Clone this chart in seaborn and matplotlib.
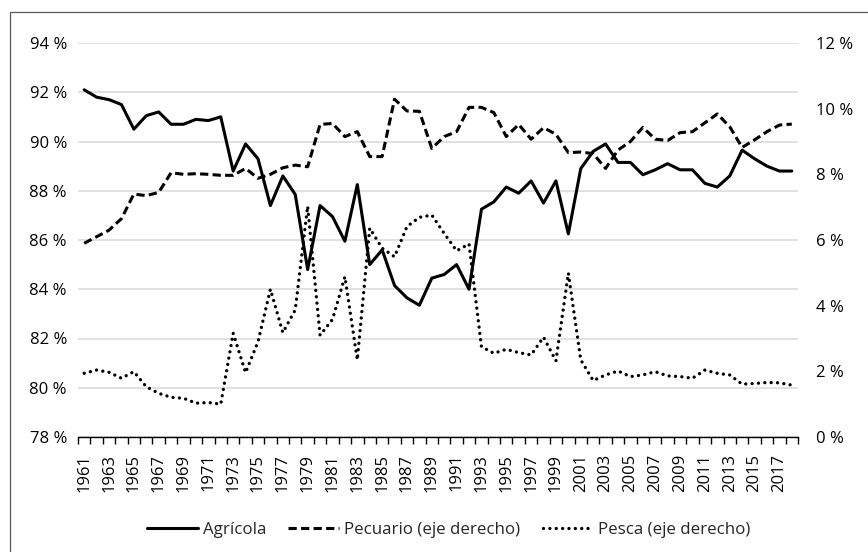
"""Agricultural, livestock and fishing shares, 1961-2018 (two y axes)."""

import matplotlib
matplotlib.use("Agg")
import matplotlib.pyplot as plt
from matplotlib.patches import Rectangle
import numpy as np
import seaborn as sns

sns.set_theme(style="white")
plt.rcParams["font.family"] = ["Open Sans", "DejaVu Sans"]

YEARS = list(range(1961, 2019))
AGRICOLA = [92.1, 91.8, 91.7, 91.5, 90.5, 91.05, 91.2, 90.7, 90.7, 90.9,
            90.85, 91.0, 88.8, 89.9, 89.3, 87.4, 88.6, 87.85, 84.8, 87.4,
            86.95, 85.95, 88.25, 85.0, 85.6, 84.15, 83.65, 83.35, 84.45, 84.6,
            85.0, 84.0, 87.25, 87.55, 88.15, 87.9, 88.4, 87.5, 88.4, 86.25,
            88.9, 89.6, 89.9, 89.15, 89.15, 88.65, 88.85, 89.1, 88.85, 88.85,
            88.3, 88.15, 88.6, 89.65, 89.3, 89.0, 88.8, 88.8]
PECUARIO = [5.9, 6.1, 6.3, 6.65, 7.4, 7.35, 7.45, 8.05, 8.0, 8.02,
            8.0, 7.97, 7.97, 8.18, 7.88, 8.0, 8.2, 8.28, 8.23, 9.52,
            9.55, 9.15, 9.3, 8.54, 8.54, 10.29, 9.93, 9.92, 8.79, 9.15,
            9.3, 10.04, 10.04, 9.88, 9.15, 9.52, 9.07, 9.42, 9.22, 8.66,
            8.68, 8.63, 8.18, 8.74, 9.0, 9.43, 9.07, 9.03, 9.27, 9.3,
            9.57, 9.84, 9.45, 8.82, 9.05, 9.3, 9.5, 9.53]
PESCA = [1.94, 2.04, 1.97, 1.79, 1.99, 1.53, 1.33, 1.21, 1.18, 1.03,
         1.05, 1.0, 3.16, 1.96, 2.9, 4.5, 3.18, 3.87, 7.03, 3.1,
         3.58, 4.88, 2.35, 6.36, 5.75, 5.49, 6.41, 6.69, 6.76, 6.2,
         5.67, 5.88, 2.75, 2.55, 2.67, 2.57, 2.5, 3.04, 2.32, 4.99,
         2.35, 1.72, 1.89, 2.01, 1.84, 1.89, 1.99, 1.86, 1.84, 1.79,
         2.04, 1.94, 1.89, 1.61, 1.63, 1.66, 1.65, 1.58]
LABELS = ["Agrícola", "Pecuario (eje derecho)", "Pesca (eje derecho)"]
LEFT_TICKS = list(range(78, 95, 2))
RIGHT_TICKS = list(range(0, 13, 2))

W, H = 868, 552
fig = plt.figure(figsize=(W / 100, H / 100), dpi=100)
ax = fig.add_axes([78 / W, 1 - 437 / H, 720 / W, 394 / H])
ax2 = ax.twinx()

sns.lineplot(x=YEARS, y=AGRICOLA, ax=ax, color="black", lw=2.2, legend=False)
sns.lineplot(x=YEARS, y=PECUARIO, ax=ax2, color="black", lw=2.2,
             linestyle=(0, (2.7, 1.4)), legend=False)
sns.lineplot(x=YEARS, y=PESCA, ax=ax2, color="black", lw=2.4,
             linestyle=(0, (0.01, 1.9)), dash_capstyle="round", legend=False)

# left axis
ax.set_xlim(1960.5, 2018.5)
ax.set_ylim(78, 94)
ax.set_yticks(LEFT_TICKS)
ax.set_yticklabels([f"{v} %" for v in LEFT_TICKS])
ax.yaxis.grid(True, color="#d9d9d9", lw=1.1)
ax.xaxis.grid(False)
ax.tick_params(axis="y", length=0, pad=8, labelsize=12, labelcolor="black")

# x axis: labels on odd years, tick marks between categories
ax.set_xticks(range(1961, 2018, 2))
ax.set_xticklabels([str(y) for y in range(1961, 2018, 2)], rotation=90)
ax.set_xticks(np.arange(1960.5, 2019, 1), minor=True)
ax.tick_params(axis="x", which="major", bottom=True, length=0, pad=12,
               labelsize=12, labelcolor="black")
ax.tick_params(axis="x", which="minor", bottom=True, length=5, width=1,
               color="black", direction="out")
ax.set_xlabel(""); ax.set_ylabel("")

# right axis
ax2.set_ylim(0, 12)
ax2.set_yticks(RIGHT_TICKS)
ax2.set_yticklabels([f"{v} %" for v in RIGHT_TICKS])
ax2.grid(False)
ax2.tick_params(axis="y", length=0, pad=13, labelsize=12, labelcolor="black")
ax2.set_ylabel("")

for s in ["top", "left", "right"]:
    ax.spines[s].set_visible(False)
for s in ax2.spines.values():
    s.set_visible(False)
ax.spines["bottom"].set_color("black")
ax.spines["bottom"].set_linewidth(1.0)

handles = [ax.lines[0], ax2.lines[0], ax2.lines[1]]
fig.legend(handles, LABELS, loc="center", bbox_to_anchor=(449 / W, 1 - 530 / H),
           ncol=3, frameon=False, handlelength=3.0, handletextpad=0.3,
           columnspacing=1.3, fontsize=12.2)

# outer chart border (only top and left visible in the crop)
fig.add_artist(Rectangle((10 / W, -0.1), 1.0, 1.1 - 12 / H, transform=fig.transFigure,
                         fill=False, edgecolor="#595959", lw=0.9))

fig.savefig("out.png", dpi=100)
